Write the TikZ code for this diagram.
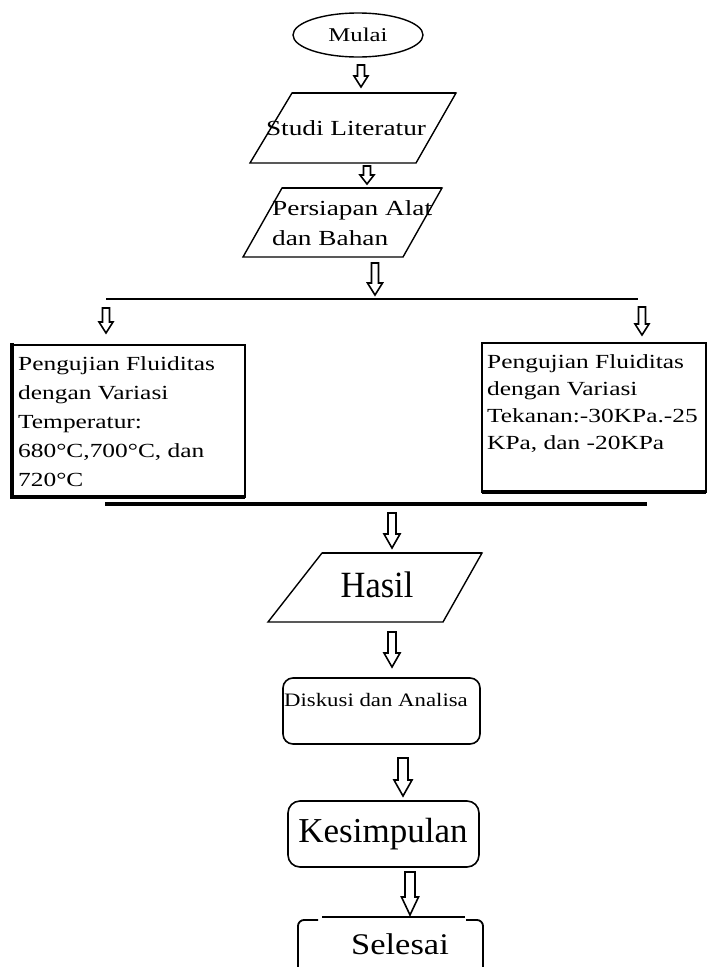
\documentclass[tikz,border=0pt]{standalone}
\usepackage{fontspec}
\setmainfont{Liberation Serif}
\newfontfamily\widefont[FakeStretch=1.27]{Liberation Serif}
\newfontfamily\hasilfont[FakeStretch=0.93]{Liberation Serif}
\newfontfamily\diskfont[FakeStretch=1.2]{Liberation Serif}
\newfontfamily\selfont[FakeStretch=1.15]{Liberation Serif}
\usetikzlibrary{calc,shapes.geometric}
\tikzset{
  txt/.style={inner sep=0pt, text=black},
  shapeline/.style={draw=black, line width=1.4pt, line join=miter},
  topedge/.style={draw=black, line width=2.6pt},
  thickedge/.style={draw=black, line width=3.4pt},
  harrow/.style={draw=black, fill=white, line width=1.6pt, line join=miter},
  hline/.style={draw=black, line width=2pt},
  hlinethick/.style={draw=black, line width=3.6pt},
}
% hollow block arrow: #1 top coordinate, #2 tip coordinate, #3 half shaft, #4 half head, #5 head length
\newcommand{\harr}[5]{\path[harrow] let \p1=(#1), \p2=(#2) in
  (\x1-#3,\y1) -- (\x1+#3,\y1) -- (\x1+#3,\y2+#5) -- (\x1+#4,\y2+#5) --
  (\x1,\y2) -- (\x1-#4,\y2+#5) -- (\x1-#3,\y2+#5) -- cycle;}
\begin{document}
\begin{tikzpicture}[x=1pt,y=-1pt]
\fill[white] (0,0) rectangle (708,967);
\useasboundingbox (0,0) rectangle (708,967);

% Mulai
\node[ellipse, shapeline, minimum width=130pt, minimum height=44pt, inner sep=0pt,
      font=\widefont\fontsize{19.5}{22}\selectfont] (mulai) at (358,35) {Mulai};

% Studi Literatur
\path[shapeline] (292,93) -- (456,93) -- (416,163) -- (250,163) -- cycle;
\draw[topedge] (292,93) -- (456,93);
\node[txt, font=\widefont\fontsize{21.5}{26}\selectfont] (studi) at (346,128) {Studi Literatur};

% Persiapan
\path[shapeline] (282,188) -- (442,188) -- (403,257) -- (243,257) -- cycle;
\draw[topedge] (282,188) -- (442,188);
\node[txt, anchor=north west, align=left, font=\widefont\fontsize{21.5}{30}\selectfont]
  (persiapan) at (272,200) {Persiapan Alat\\dan Bahan};

% horizontal split line
\coordinate (splitL) at (106,299);
\coordinate (splitR) at (638,299);
\draw[hline] (splitL) -- (splitR);

% left box
\draw[shapeline, line width=1.8pt] (12,345) rectangle (245,497);
\draw[thickedge] (12,343) -- (12,497) -- (245,497);
\node[txt, anchor=north west, align=left, font=\widefont\fontsize{20}{29}\selectfont]
  (kiri) at (18,356) {Pengujian Fluiditas\\dengan Variasi\\Temperatur:\\680°C,700°C, dan\\720°C};

% right box
\draw[shapeline, line width=1.8pt] (482,343) rectangle (706,492);
\draw[thickedge] (482,492) -- (706,492);
\node[txt, anchor=north west, align=left, font=\widefont\fontsize{20}{27}\selectfont]
  (kanan) at (487,354) {Pengujian Fluiditas\\dengan Variasi\\Tekanan:-30KPa.-25\\KPa, dan -20KPa};

% join line
\coordinate (joinL) at (105,504);
\coordinate (joinR) at (647,504);
\draw[hlinethick] (joinL) -- (joinR);

% Hasil
\path[shapeline] (322,553) -- (482,553) -- (443,622) -- (268,622) -- cycle;
\draw[draw=black, line width=2pt] (322,553) -- (482,553);
\node[txt, font=\hasilfont\fontsize{37}{40}\selectfont] (hasil) at (377,585) {Hasil};

% Diskusi
\draw[shapeline, line width=1.6pt, rounded corners=10pt] (283,678) rectangle (480,744);
\node[txt, font=\diskfont\fontsize{19}{22}\selectfont] (diskusi) at (376,700) {Diskusi dan Analisa};

% Kesimpulan
\draw[shapeline, line width=1.6pt, rounded corners=12pt] (288,801) rectangle (479,867);
\draw[topedge] (300,801) -- (467,801);
\node[txt, font=\fontsize{35}{40}\selectfont] (kesimpulan) at (383,834) {Kesimpulan};

% Selesai
\draw[shapeline] (322,917) -- (465,917);
\draw[shapeline, line width=1.8pt, rounded corners=6pt] (318,920) -- (298,920) -- (298,975);
\draw[shapeline, line width=1.8pt, rounded corners=6pt] (466,920) -- (483,920) -- (483,975);
\node[txt, font=\selfont\fontsize{30}{34}\selectfont] (selesai) at (400,944) {Selesai};

% arrows
\coordinate (a1s) at (361,65);  \coordinate (a1e) at (361,87);
\coordinate (a2s) at (367,166); \coordinate (a2e) at (367,184);
\coordinate (a3s) at (375,263); \coordinate (a3e) at (375,295);
\coordinate (aLs) at (106,308); \coordinate (aLe) at (106,333);
\coordinate (aRs) at (642,307); \coordinate (aRe) at (642,335);
\coordinate (a4s) at (392,513); \coordinate (a4e) at (392,548);
\coordinate (a5s) at (392,632); \coordinate (a5e) at (392,667);
\coordinate (a6s) at (403,758); \coordinate (a6e) at (403,796);
\coordinate (a7s) at (410,872); \coordinate (a7e) at (410,915);
\harr{a1s}{a1e}{3.5pt}{7pt}{11pt}
\harr{a2s}{a2e}{3.5pt}{7pt}{9pt}
\harr{a3s}{a3e}{3.5pt}{7.5pt}{12pt}
\harr{aLs}{aLe}{3.5pt}{7pt}{11pt}
\harr{aRs}{aRe}{3.5pt}{7pt}{11pt}
\harr{a4s}{a4e}{4pt}{8pt}{14pt}
\harr{a5s}{a5e}{4pt}{8pt}{14pt}
\harr{a6s}{a6e}{5pt}{9pt}{16pt}
\harr{a7s}{a7e}{5pt}{8.5pt}{18pt}
\end{tikzpicture}
\end{document}
